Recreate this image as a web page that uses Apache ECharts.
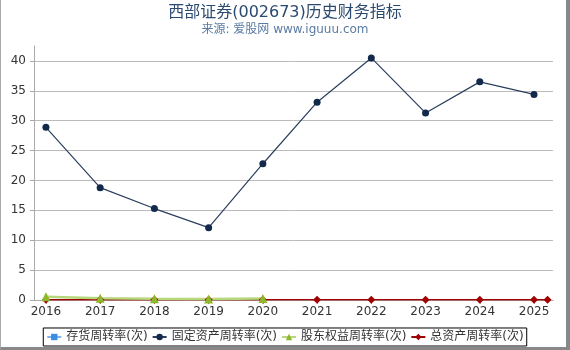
<!DOCTYPE html>
<html>
<head>
<meta charset="utf-8">
<script src="https://cdn.jsdelivr.net/npm/echarts@6/dist/echarts.min.js"></script>
<style>
html, body { margin: 0; padding: 0; background: #fff; }
#wrap { position: relative; width: 570px; height: 350px; }
#main { position: absolute; left: 0; top: 0; width: 570px; height: 350px; }
#frame { position: absolute; left: 0; top: 0; width: 570px; height: 350px; box-sizing: border-box;
  border-left: 1px solid #aaa; border-right: 4px solid #888; border-bottom: 3px solid #888; pointer-events: none; }
</style>
</head>
<body>
<div id="wrap"><div id="main"></div><div id="frame"></div></div>
<script>
var years = [2016, 2017, 2018, 2019, 2020, 2021, 2022, 2023, 2024, 2025, 2025.25];
var inventoryTurnover = [];
var fixedAssetTurnover = [28.9, 18.8, 15.3, 12.1, 22.8, 33.1, 40.5, 31.3, 36.5, 34.4, null];
var equityTurnover = [0.55, 0.3, 0.2, 0.15, 0.25, null, null, null, null, null, null];
var totalAssetTurnover = [0.05, 0.05, 0.05, 0.05, 0.05, 0.05, 0.05, 0.05, 0.05, 0.05, 0.04];

function pairs(vals) {
    var out = [];
    vals.forEach(function (v, i) {
        if (v !== null && v !== undefined) out.push([years[i], v]);
    });
    return out;
}

var chartDom = document.getElementById('main');
var myChart = echarts.init(chartDom);
var font = 'DejaVu Sans, "Noto Sans CJK SC", sans-serif';

var option = {
    animation: false,
    textStyle: { fontFamily: font },
    title: {
        text: '西部证券(002673)历史财务指标',
        subtext: '来源: 爱股网 www.iguuu.com',
        left: 'center',
        top: 0,
        itemGap: 3,
        textStyle: { fontSize: 16, fontWeight: 'normal', color: '#2b4a6f', fontFamily: font },
        subtextStyle: { fontSize: 12, color: '#5b7ba3', fontFamily: font }
    },
    legend: {
        bottom: 4,
        left: 'center',
        borderColor: '#000',
        borderWidth: 1,
        padding: [3, 3],
        itemGap: 4,
        itemWidth: 14,
        itemHeight: 8,
        textStyle: { fontSize: 12, color: '#333', fontFamily: font },
        data: ['存货周转率(次)', '固定资产周转率(次)', '股东权益周转率(次)', '总资产周转率(次)']
    },
    grid: { left: 34, right: 17, top: 46, bottom: 50, containLabel: false },
    xAxis: {
        type: 'value',
        min: 2015.78,
        max: 2025.35,
        splitNumber: 10,
        splitLine: { show: false },
        axisLine: { lineStyle: { color: '#aaa' } },
        axisTick: { show: true, length: 4, lineStyle: { color: '#aaa' } },
        axisLabel: {
            color: '#333', fontSize: 12, margin: 6,
            showMinLabel: false, showMaxLabel: false,
            formatter: function (v) { return Math.abs(v - Math.round(v)) < 1e-6 ? String(Math.round(v)) : ''; }
        }
    },
    yAxis: {
        type: 'value',
        min: 0,
        max: 42.5,
        interval: 5,
        axisLine: { show: true, lineStyle: { color: '#aaa' } },
        axisTick: { show: true, length: 4, lineStyle: { color: '#aaa' } },
        splitLine: { show: true, showMaxLine: false, lineStyle: { color: '#bbb' } },
        axisLabel: {
            color: '#333', fontSize: 12, margin: 8, showMaxLabel: false,
            formatter: function (v) { return v % 5 === 0 ? String(v) : ''; }
        }
    },
    series: [
        {
            name: '存货周转率(次)', type: 'line', data: pairs(inventoryTurnover),
            symbol: 'rect', symbolSize: 7,
            itemStyle: { color: '#3a8ee6' }, lineStyle: { color: '#7fb3ea', width: 1.5 }
        },
        {
            name: '总资产周转率(次)', type: 'line', data: pairs(totalAssetTurnover),
            symbol: 'diamond', symbolSize: 8,
            itemStyle: { color: '#a00000' }, lineStyle: { color: '#a00000', width: 1.5 }
        },
        {
            name: '股东权益周转率(次)', type: 'line', data: pairs(equityTurnover),
            symbol: 'triangle', symbolSize: 9,
            itemStyle: { color: '#8db82a' }, lineStyle: { color: '#b6d77a', width: 2.5 }
        },
        {
            name: '固定资产周转率(次)', type: 'line', data: pairs(fixedAssetTurnover),
            symbol: 'circle', symbolSize: 7,
            itemStyle: { color: '#13294b' }, lineStyle: { color: '#2a3f5e', width: 1.2 }
        }
    ]
};

option && myChart.setOption(option);
</script>
</body>
</html>
